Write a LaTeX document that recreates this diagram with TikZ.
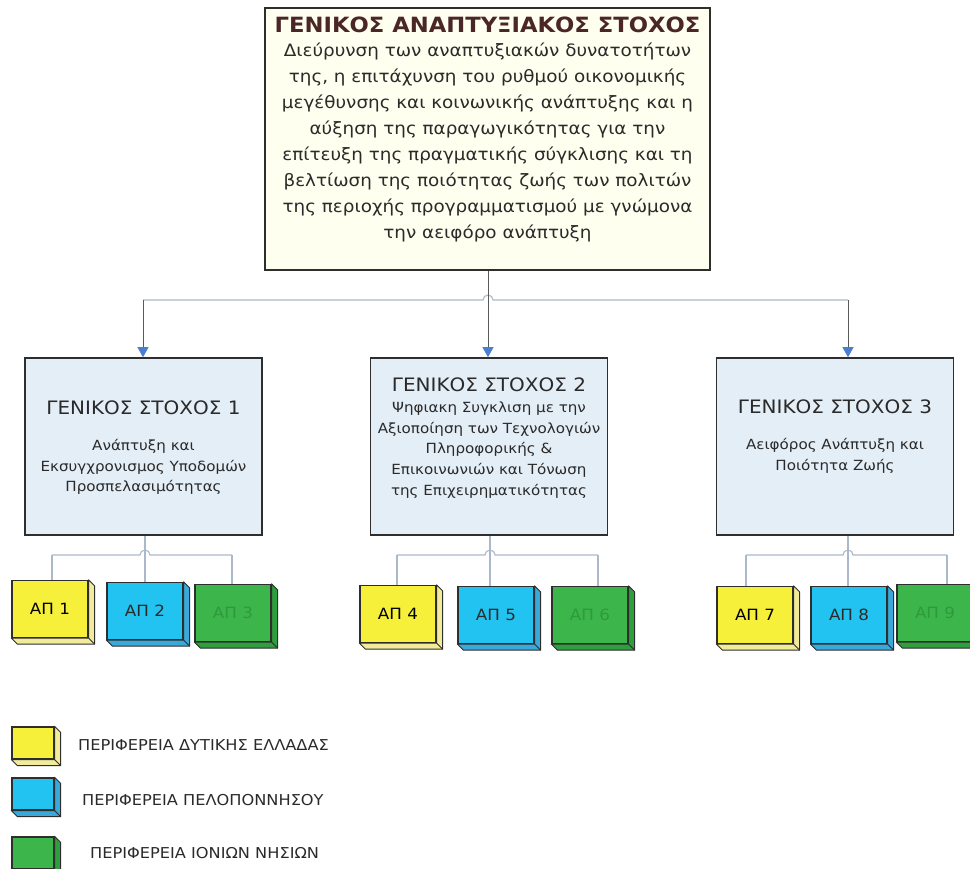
\documentclass[tikz,border=0pt]{standalone}
\usepackage{fontspec}
\setmainfont[FakeStretch=1.08]{DejaVu Sans}
\usetikzlibrary{arrows.meta,calc}
\definecolor{topfill}{HTML}{FFFFF0}
\definecolor{boxfill}{HTML}{E4EEF7}
\definecolor{edge}{HTML}{2E2E2E}
\definecolor{titlered}{HTML}{4A2626}
\definecolor{txt}{HTML}{2A2A2A}
\definecolor{arrowblue}{HTML}{4A7FD0}
\definecolor{lightline}{HTML}{AAB8CA}
\definecolor{darkline}{HTML}{5A5A5A}
\definecolor{apyellow}{HTML}{F7F03A}
\definecolor{apyellowside}{HTML}{F2EC9A}
\definecolor{apblue}{HTML}{22C3F0}
\definecolor{apblueside}{HTML}{38A9DA}
\definecolor{apgreen}{HTML}{3CB54A}
\definecolor{apgreenside}{HTML}{2F9E3E}
\definecolor{greentxt}{HTML}{2E9A3C}
\newcommand\apdepth[2]{%
  \filldraw[fill=#2,draw=edge,line width=0.9pt,line join=round]
    (#1.north east) -- ++(6,6) -- ($(#1.south east)+(6,6)$) -- ($(#1.south west)+(6,6)$)
    -- (#1.south west) -- (#1.south east) -- cycle;
  \draw[edge,line width=0.9pt] (#1.south east) -- ++(6,6);}
\begin{document}
\begin{tikzpicture}[x=1pt,y=-1pt,
  topbox/.style={draw=edge,line width=1.6pt,fill=topfill,minimum width=445pt,minimum height=262pt,inner sep=0pt},
  goal/.style={draw=edge,line width=1.6pt,fill=boxfill,minimum width=237pt,minimum height=177pt,inner sep=0pt},
  goaltitle/.style={text=txt,font=\fontsize{18.5}{20}\selectfont,inner sep=0pt},
  goalbody/.style={text=txt,font=\fontsize{14}{20.8}\selectfont,align=center,inner sep=0pt},
  ap/.style={draw=edge,line width=1.3pt,minimum width=76pt,minimum height=57pt,inner sep=0pt,font=\fontsize{15.5}{17}\selectfont},
  legbox/.style={draw=edge,line width=1.3pt,minimum width=42pt,minimum height=32pt,inner sep=0pt},
  legtext/.style={anchor=west,text=txt,font=\fontsize{15}{17}\selectfont,inner sep=0pt},
  conn/.style={draw=darkline,line width=0.9pt},
  lconn/.style={draw=lightline,line width=1.1pt},
  tip/.style={-{Triangle[width=11pt,length=10pt,color=arrowblue]}}
]
\useasboundingbox (0,0) rectangle (970,869);
% top box
\node[topbox] (top) at (487.5,139) {};
\node[text=titlered,font=\fontsize{21}{24}\selectfont\bfseries,inner sep=0pt] (toptitle) at (487.5,25) {ΓΕΝΙΚΟΣ ΑΝΑΠΤΥΞΙΑΚΟΣ ΣΤΟΧΟΣ};
\node[text=txt,font=\fontsize{17}{26}\selectfont,align=center,inner sep=0pt] (topbody) at (487.5,142)
 {Διεύρυνση των αναπτυξιακών δυνατοτήτων\\
  της, η επιτάχυνση του ρυθμού οικονομικής\\
  μεγέθυνσης και κοινωνικής ανάπτυξης και η\\
  αύξηση της παραγωγικότητας για την\\
  επίτευξη της πραγματικής σύγκλισης και τη\\
  βελτίωση της ποιότητας ζωής των πολιτών\\
  της περιοχής προγραμματισμού με γνώμονα\\
  την αειφόρο ανάπτυξη};
% goal boxes
\node[goal] (g1) at (143.5,446.5) {};
\node[goal] (g2) at (489,446.5) {};
\node[goal] (g3) at (835,446.5) {};
\node[goaltitle] (g1t) at (143.5,408) {ΓΕΝΙΚΟΣ ΣΤΟΧΟΣ 1};
\node[goalbody] (g1b) at (143.5,467) {Ανάπτυξη και\\Εκσυγχρονισμος Υποδομών\\Προσπελασιμότητας};
\node[goaltitle] (g2t) at (489,385) {ΓΕΝΙΚΟΣ ΣΤΟΧΟΣ 2};
\node[goalbody] (g2b) at (489,450) {Ψηφιακη Συγκλιση με την\\Αξιοποίηση των Τεχνολογιών\\Πληροφορικής \&\\Επικοινωνιών και Τόνωση\\της Επιχειρηματικότητας};
\node[goaltitle] (g3t) at (835,407) {ΓΕΝΙΚΟΣ ΣΤΟΧΟΣ 3};
\node[goalbody] (g3b) at (835,456) {Αειφόρος Ανάπτυξη και\\Ποιότητα Ζωής};
% top connectors
\coordinate (hM) at (488,300);
\coordinate (x1) at (143,0);
\coordinate (x3) at (848,0);
\coordinate (hL) at (x1 |- hM);
\coordinate (hR) at (x3 |- hM);
\draw[lconn] (hL) -- ($(hM)+(-5,0)$) arc[start angle=180,end angle=360,radius=5] -- (hR);
\draw[conn,tip] (top.south -| hM) -- (g2.north -| hM);
\draw[conn,tip] (hL) -- (hL |- g1.north);
\draw[conn,tip] (hR) -- (hR |- g3.north);
% AP boxes
\node[ap,fill=apyellow] (a1) at (50,609) {ΑΠ 1};
\node[ap,fill=apblue,text=txt] (a2) at (145,611) {ΑΠ 2};
\node[ap,fill=apgreen,text=greentxt] (a3) at (233,613) {ΑΠ 3};
\node[ap,fill=apyellow] (a4) at (398,614) {ΑΠ 4};
\node[ap,fill=apblue,text=txt] (a5) at (496,615) {ΑΠ 5};
\node[ap,fill=apgreen,text=greentxt] (a6) at (590,615) {ΑΠ 6};
\node[ap,fill=apyellow] (a7) at (755,615) {ΑΠ 7};
\node[ap,fill=apblue,text=txt] (a8) at (849,615) {ΑΠ 8};
\node[ap,fill=apgreen,text=greentxt] (a9) at (935,613) {ΑΠ 9};
\apdepth{a1}{apyellowside}\apdepth{a2}{apblueside}\apdepth{a3}{apgreenside}
\apdepth{a4}{apyellowside}\apdepth{a5}{apblueside}\apdepth{a6}{apgreenside}
\apdepth{a7}{apyellowside}\apdepth{a8}{apblueside}\apdepth{a9}{apgreenside}
% group connectors
\coordinate (v1) at (52,555);  \coordinate (v2) at (145,555); \coordinate (v3) at (232,555);
\coordinate (v4) at (397,555); \coordinate (v5) at (490,555); \coordinate (v6) at (598,555);
\coordinate (v7) at (746,555); \coordinate (v8) at (848,555); \coordinate (v9) at (947,555);
\foreach \l/\m/\r in {v1/v2/v3,v4/v5/v6,v7/v8/v9}{
  \draw[lconn] (\l) -- ($(\m)+(-5,0)$) arc[start angle=180,end angle=360,radius=5] -- (\r);
}
\draw[lconn] (v2 |- g1.south) -- (v2 |- a2.north);
\draw[lconn] (v5 |- g2.south) -- (v5 |- a5.north);
\draw[lconn] (v8 |- g3.south) -- (v8 |- a8.north);
\draw[lconn] (v1) -- (v1 |- a1.north);
\draw[lconn] (v3) -- (v3 |- a3.north);
\draw[lconn] (v4) -- (v4 |- a4.north);
\draw[lconn] (v6) -- (v6 |- a6.north);
\draw[lconn] (v7) -- (v7 |- a7.north);
\draw[lconn] (v9) -- (v9 |- a9.north);
% legend
\node[legbox,fill=apyellow] (l1) at (33,743) {};
\node[legbox,fill=apblue] (l2) at (33,794) {};
\node[legbox,fill=apgreen] (l3) at (33,853) {};
\apdepth{l1}{apyellowside}\apdepth{l2}{apblueside}\apdepth{l3}{apgreenside}
\node[legtext] (t1) at (78,745) {ΠΕΡΙΦΕΡΕΙΑ ΔΥΤΙΚΗΣ ΕΛΛΑΔΑΣ};
\node[legtext] (t2) at (82,800) {ΠΕΡΙΦΕΡΕΙΑ ΠΕΛΟΠΟΝΝΗΣΟΥ};
\node[legtext] (t3) at (90,853) {ΠΕΡΙΦΕΡΕΙΑ ΙΟΝΙΩΝ ΝΗΣΙΩΝ};
\end{tikzpicture}
\end{document}
